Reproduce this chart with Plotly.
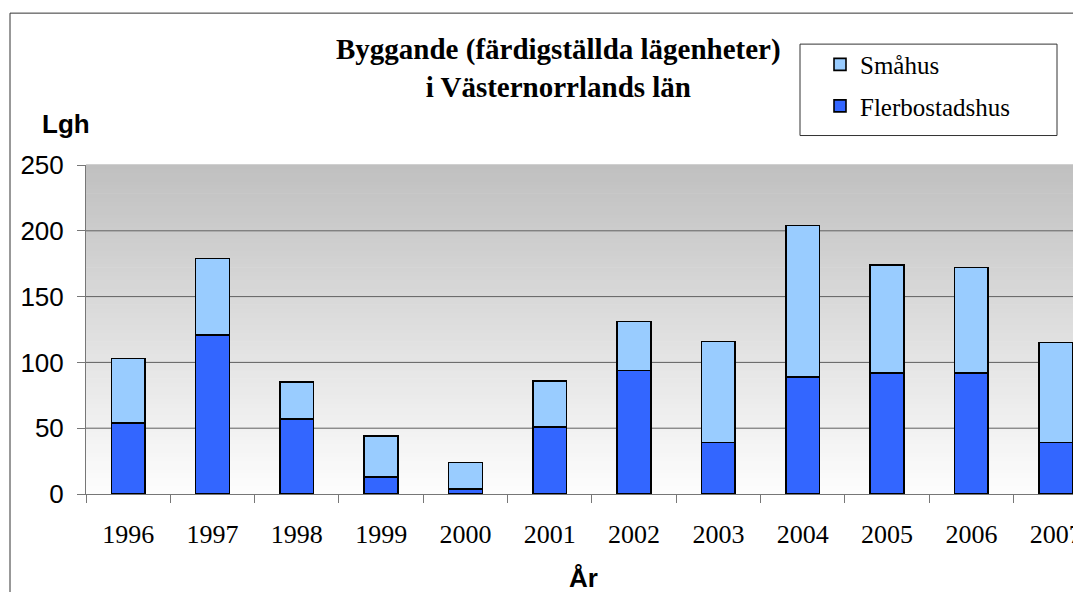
import plotly.graph_objects as go

years = ["1996", "1997", "1998", "1999", "2000", "2001", "2002", "2003", "2004", "2005", "2006", "2007"]
flerbostadshus = [54, 121, 57, 13, 4, 51, 94, 39, 89, 92, 92, 39]
smahus = [49, 58, 28, 31, 20, 35, 37, 77, 115, 82, 80, 76]
y_ticks = [0, 50, 100, 150, 200, 250]

SERIF = "Liberation Serif, Times New Roman, serif"
SANS = "Liberation Sans, Arial, sans-serif"

# The page body has an 8px margin; the figure is sized so the page does not scroll.
OFF = 8
W, H = 1081 - OFF, 600 - 2 * OFF
# plot area in page pixels
P_LEFT, P_RIGHT, P_TOP, P_BOTTOM = 86, 1081, 165, 494.3
L = P_LEFT - OFF
R = 0
T = P_TOP - OFF
B = (H + OFF) - P_BOTTOM
PW = P_RIGHT - P_LEFT
PH = P_BOTTOM - P_TOP


def px_x(x):
    return (x - P_LEFT) / PW


def px_y(y):
    return (P_BOTTOM - y) / PH


fig = go.Figure()
fig.add_trace(go.Bar(
    x=years, y=flerbostadshus, name="Flerbostadshus",
    marker=dict(color="#3366FF", line=dict(color="black", width=1.6)),
    width=0.4, legendgroup="a", legendrank=2,
))
fig.add_trace(go.Bar(
    x=years, y=smahus, name="Småhus",
    marker=dict(color="#99CCFF", line=dict(color="black", width=1.6)),
    width=0.4, legendgroup="b", legendrank=1,
))

shapes = []
# gradient background of plot area
N = 80
for i in range(N):
    f = i / (N - 1)  # 0 at bottom, 1 at top
    v = int(round(253 - (253 - 192) * f))
    shapes.append(dict(
        type="rect", xref="paper", yref="paper",
        x0=0, x1=1, y0=i / N, y1=(i + 1) / N + 0.002,
        fillcolor=f"rgb({v},{v},{v})", line=dict(width=0), layer="below",
    ))
# gridlines
for t in y_ticks[1:-1]:
    shapes.append(dict(
        type="line", xref="paper", yref="y", x0=0, x1=1, y0=t, y1=t,
        line=dict(color="#606060", width=1), layer="below",
    ))
# legend box
shapes.append(dict(
    type="rect", xref="paper", yref="paper",
    x0=px_x(800), x1=px_x(1057), y0=px_y(135.5), y1=px_y(44),
    fillcolor="white", line=dict(color="#333333", width=1),
))
# outer chart border
shapes.append(dict(
    type="rect", xref="paper", yref="paper",
    x0=px_x(10), x1=1.2, y0=-0.6, y1=px_y(13),
    line=dict(color="#333333", width=1), fillcolor="rgba(0,0,0,0)",
))

annotations = [
    dict(text="<b>Byggande (färdigställda lägenheter)<br>i Västernorrlands län</b>",
         xref="paper", yref="paper", x=px_x(558), y=px_y(68),
         xanchor="center", yanchor="middle", showarrow=False,
         font=dict(family=SERIF, size=29, color="black")),
    dict(text="<b>Lgh</b>", xref="paper", yref="paper", x=px_x(40), y=px_y(124),
         xanchor="left", yanchor="middle", showarrow=False,
         font=dict(family=SANS, size=26, color="black")),
    dict(text="<b>År</b>", xref="paper", yref="paper", x=px_x(583), y=px_y(578),
         xanchor="center", yanchor="middle", showarrow=False,
         font=dict(family=SANS, size=26, color="black")),
]

fig.update_layout(
    width=W, height=H,
    margin=dict(l=L, r=R, t=T, b=B, pad=0),
    paper_bgcolor="white", plot_bgcolor="rgba(0,0,0,0)",
    barmode="stack", bargap=0.6,
    showlegend=True,
    legend=dict(
        x=px_x(820), y=px_y(41.5), xanchor="left", yanchor="top",
        xref="paper", yref="paper",
        bgcolor="rgba(0,0,0,0)", borderwidth=0,
        traceorder="grouped", tracegroupgap=6,
        font=dict(family=SERIF, size=25, color="black"),
    ),
    shapes=shapes,
    annotations=annotations,
    xaxis=dict(
        type="category", range=[-0.5, 11.3],
        showgrid=False, showline=True, linecolor="#777777", linewidth=1,
        ticks="outside", tickson="boundaries", ticklen=8, tickcolor="#777777",
        tickfont=dict(family=SERIF, size=26, color="black"),
        ticklabelstandoff=17,
    ),
    yaxis=dict(
        range=[0, 250], tickvals=y_ticks,
        showgrid=False, zeroline=False,
        showline=True, linecolor="#777777", linewidth=1,
        ticks="outside", ticklen=8, tickcolor="#777777",
        tickfont=dict(family=SANS, size=26, color="black"),
        ticklabelstandoff=8,
    ),
)

fig.write_html("out.html")
